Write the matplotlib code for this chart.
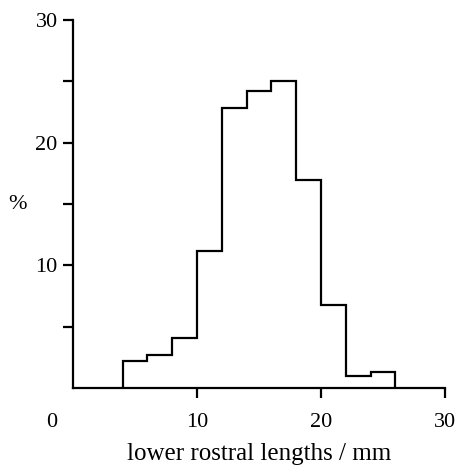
import matplotlib
matplotlib.use('Agg')
import matplotlib.pyplot as plt
from matplotlib.transforms import ScaledTranslation

plt.rcParams['font.family'] = ['Liberation Serif', 'DejaVu Serif']

# bin edges (mm) and percentage in each bin
bin_edges = [4, 6, 8, 10, 12, 14, 16, 18, 20, 22, 24, 26]
percent = [2.2, 2.7, 4.1, 11.2, 22.8, 24.2, 25.0, 17.0, 6.8, 1.0, 1.3]

xticks = [0, 10, 20, 30]
yticks = [10, 20, 30]
yminor = [5, 15, 25]

fig = plt.figure(figsize=(4.59, 4.71), dpi=100)
ax = fig.add_axes([0.159, 0.176, 0.8105, 0.7815])

ax.stairs(percent, bin_edges, baseline=0, color='black', lw=1.6)

ax.set_xlim(0, 30)
ax.set_ylim(0, 30)
for s in ['top', 'right']:
    ax.spines[s].set_visible(False)
for s in ['left', 'bottom']:
    ax.spines[s].set_linewidth(1.6)

ax.set_xticks(xticks)
ax.set_xticklabels([str(t) for t in xticks])
ax.set_yticks(yticks)
ax.set_yticklabels([str(t) for t in yticks])
ax.set_yticks(yminor, minor=True)
ax.tick_params(axis='both', which='both', direction='out', width=1.6,
               length=7, labelsize=16, colors='black')
ax.tick_params(axis='x', pad=11)
ax.tick_params(axis='y', pad=4)

# no tick mark at the origin, label pushed left
t0 = ax.xaxis.get_major_ticks()[0]
t0.tick1line.set_visible(False)
lab0 = t0.label1
lab0.set_transform(lab0.get_transform() + ScaledTranslation(-0.21, 0, fig.dpi_scale_trans))

ax.set_xlabel('lower rostral lengths / mm', fontsize=18, labelpad=8)
ax.set_ylabel('%', rotation=0, fontsize=16)
ax.yaxis.set_label_coords(-0.15, 0.5)
ax.yaxis.label.set_va('center')

fig.savefig('out.png', dpi=100)
